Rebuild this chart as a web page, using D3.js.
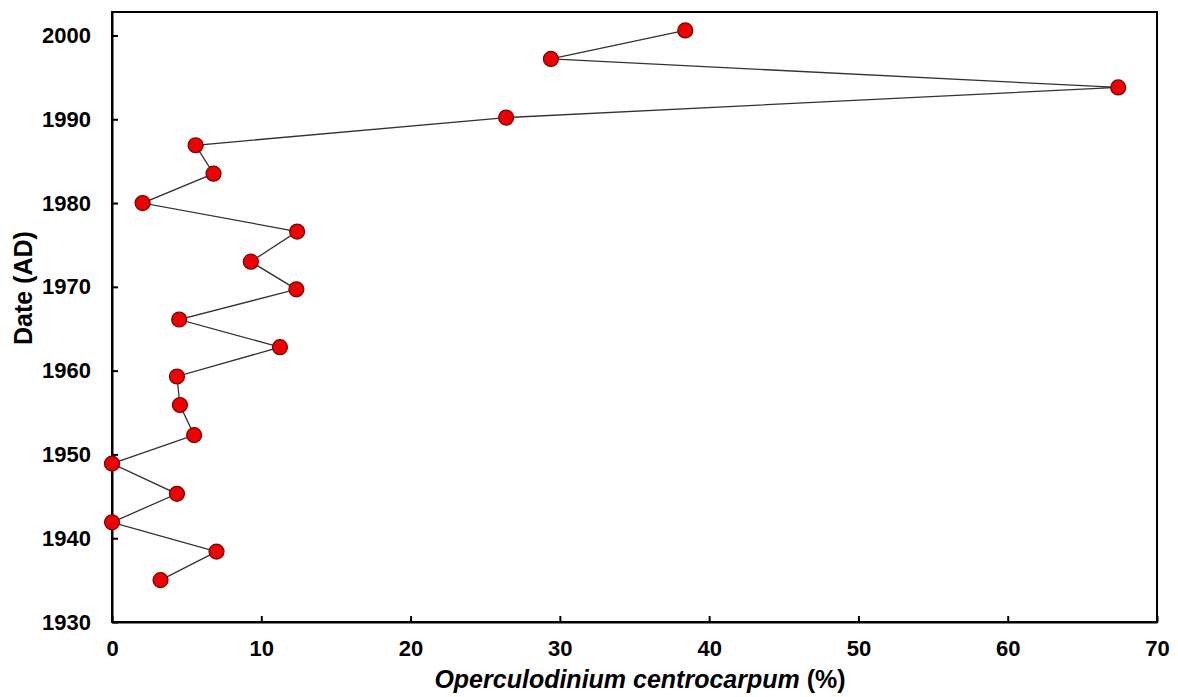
<!DOCTYPE html>
<html><head><meta charset="utf-8">
<script src="https://cdn.jsdelivr.net/npm/d3@7"></script>
<style>body{margin:0;background:#fff;} text{font-family:"Liberation Sans",Arial,sans-serif;}</style>
</head><body><svg id="c" width="1178" height="697"></svg>
<script>
const percent = [38.4, 29.4, 67.4, 26.4, 5.6, 6.8, 2.05, 12.4, 9.3, 12.35, 4.5, 11.25, 4.35, 4.55, 5.5, 0, 4.35, 0, 7.0, 3.25];
const years = [2000.6, 1997.2, 1993.8, 1990.2, 1986.9, 1983.5, 1980.0, 1976.6, 1973.0, 1969.7, 1966.1, 1962.8, 1959.3, 1955.9, 1952.3, 1948.9, 1945.3, 1941.9, 1938.4, 1935.0];
const xTicks = [0, 10, 20, 30, 40, 50, 60, 70];
const yTicks = [1930, 1940, 1950, 1960, 1970, 1980, 1990, 2000];

const W = 1178, H = 697;
const m = {left: 112, top: 12, right: 21, bottom: 75};
const svg = d3.select("#c");
const x = d3.scaleLinear().domain([0, 70]).range([m.left, W - m.right]);
const y = d3.scaleLinear().domain([1930, 2002.8]).range([H - m.bottom, m.top]);

// frame
svg.append("rect").attr("x", m.left).attr("y", m.top)
  .attr("width", W - m.right - m.left).attr("height", H - m.bottom - m.top)
  .attr("fill", "none").attr("stroke", "#000").attr("stroke-width", 2);

const xAxis = svg.append("g").attr("transform", `translate(0,${H - m.bottom})`)
  .call(d3.axisBottom(x).tickValues(xTicks).tickSizeInner(-6).tickSizeOuter(0).tickPadding(18));
const yAxis = svg.append("g").attr("transform", `translate(${m.left},0)`)
  .call(d3.axisLeft(y).tickValues(yTicks).tickFormat(d3.format("d")).tickSizeInner(-6).tickSizeOuter(0).tickPadding(21));
[xAxis, yAxis].forEach(g => {
  g.select(".domain").attr("stroke", "#000").attr("stroke-width", 2);
  g.selectAll(".tick line").attr("stroke", "#000").attr("stroke-width", 2);
  g.selectAll(".tick text").attr("fill", "#000").style("font-size", "22px").style("font-weight", "bold");
});

const data = percent.map((p, i) => ({p, yr: years[i]}));
svg.append("path").datum(data)
  .attr("fill", "none").attr("stroke", "#333").attr("stroke-width", 1.3)
  .attr("d", d3.line().x(d => x(d.p)).y(d => y(d.yr)));
svg.selectAll("circle.pt").data(data).join("circle").attr("class", "pt")
  .attr("cx", d => x(d.p)).attr("cy", d => y(d.yr)).attr("r", 7.5)
  .attr("fill", "#ee0000").attr("stroke", "#7a0000").attr("stroke-width", 1.2);

svg.append("text").attr("transform", `translate(32,288) rotate(-90)`)
  .attr("text-anchor", "middle").style("font-size", "25px").style("font-weight", "bold").text("Date (AD)");
const xt = svg.append("text").attr("x", 640).attr("y", 688)
  .attr("text-anchor", "middle").style("font-size", "25px").style("font-weight", "bold");
xt.append("tspan").style("font-style", "italic").text("Operculodinium centrocarpum");
xt.append("tspan").text(" (%)");
</script></body></html>
